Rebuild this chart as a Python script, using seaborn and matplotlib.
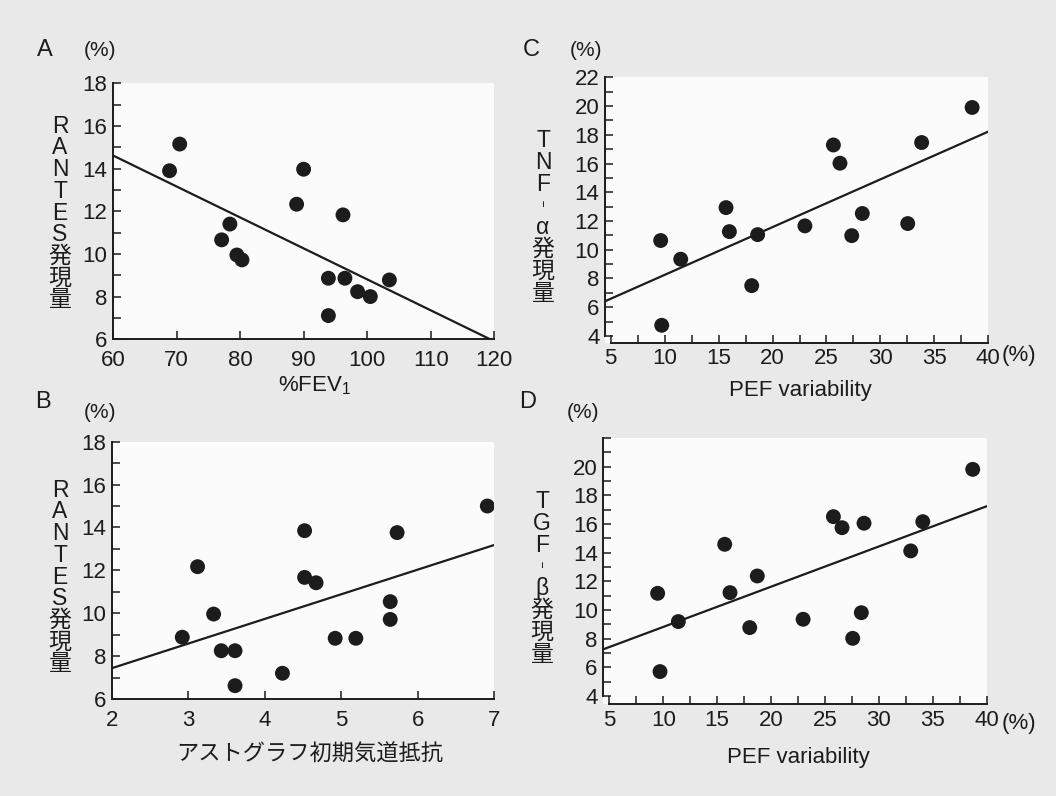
import matplotlib
matplotlib.use("Agg")
import matplotlib.pyplot as plt
import seaborn as sns
from matplotlib.ticker import MultipleLocator

# A: RANTES expression vs %FEV1
fev1 = [68.9, 70.5, 77.1, 78.4, 79.5, 80.3, 88.9, 90.0, 96.2, 93.9, 93.9, 96.5, 98.5, 100.5, 103.5]
rantes_a = [13.9, 15.15, 10.66, 11.4, 9.95, 9.72, 12.33, 13.97, 11.83, 8.86, 7.11, 8.86, 8.23, 8.0, 8.78]

# B: RANTES expression vs astograph initial airway resistance
resist = [2.92, 3.12, 3.33, 3.43, 3.61, 3.61, 4.23, 4.52, 4.52, 4.67, 4.92, 5.19, 5.64, 5.64, 5.73, 6.91]
rantes_b = [8.88, 12.17, 9.96, 8.25, 8.25, 6.62, 7.2, 13.85, 11.67, 11.42, 8.83, 8.83, 10.54, 9.71, 13.76, 15.0]

# C: TNF-alpha vs PEF variability
pef_c = [9.63, 9.73, 11.49, 15.69, 16.0, 18.07, 18.62, 23.0, 25.64, 26.25, 27.34, 28.32, 32.53, 33.82, 38.5]
tnf = [10.64, 4.74, 9.34, 12.93, 11.26, 7.5, 11.05, 11.66, 17.29, 16.02, 10.98, 12.52, 11.82, 17.46, 19.9]

# D: TGF-beta vs PEF variability
pef_d = [9.48, 9.70, 11.4, 15.7, 16.19, 18.02, 18.72, 22.97, 25.78, 26.58, 27.57, 28.37, 28.62, 32.95, 34.07, 38.7]
tgf = [11.16, 5.70, 9.19, 14.58, 11.21, 8.77, 12.37, 9.35, 16.51, 15.74, 8.02, 9.81, 16.05, 14.12, 16.16, 19.81]

sns.set_style("ticks")
plt.rcParams["font.family"] = ["Liberation Sans", "Noto Sans CJK JP", "DejaVu Sans"]
plt.rcParams["mathtext.fontset"] = "custom"
plt.rcParams["mathtext.rm"] = "Liberation Sans"
plt.rcParams["axes.linewidth"] = 1.4

INK = "#1c1c1c"
W, H = 1056, 796

fig = plt.figure(figsize=(10.56, 7.96), dpi=100, facecolor="#e9e9e9")


def px(x, y):
    return x / W, 1 - y / H


def panel(rect, x, y, xlim, ylim, xmajor, ymajor, xminor, yminor, trim=False, xpad=8):
    ax = fig.add_axes(rect, facecolor="#fbfbfb")
    # limits first, so the fitted line spans the whole x range
    ax.set_xlim(*xlim)
    ax.set_ylim(*ylim)
    sns.regplot(x=x, y=y, ax=ax, ci=None, truncate=False,
                scatter_kws=dict(s=115, color=INK, edgecolor="none", alpha=1, zorder=3),
                line_kws=dict(color=INK, lw=1.6))
    ax.set_xlim(*xlim)
    ax.set_ylim(*ylim)
    ax.set_xticks(xmajor)
    ax.set_yticks(ymajor)
    if xminor:
        ax.xaxis.set_minor_locator(MultipleLocator(xminor))
    if yminor:
        ax.yaxis.set_minor_locator(MultipleLocator(yminor))
    ax.tick_params(which="both", direction="in", length=6, width=1.1, color=INK)
    ax.tick_params(labelsize=16, labelcolor=INK)
    ax.tick_params(axis="y", pad=4)
    ax.tick_params(axis="x", pad=xpad)
    sns.despine(ax=ax, trim=trim)
    for s in ("left", "bottom"):
        ax.spines[s].set_color(INK)
    ax.set_xlabel("")
    ax.set_ylabel("")
    return ax


axA = panel([0.107, 0.5738, 0.361, 0.3216], fev1, rantes_a, (60, 120), (6, 18),
            range(60, 121, 10), range(6, 19, 2), None, 1)
axB = panel([0.106, 0.1219, 0.362, 0.3232], resist, rantes_b, (2, 7), (6, 18),
            range(2, 8), range(6, 19, 2), None, 1)
axC = panel([0.5729, 0.5695, 0.363, 0.3334], pef_c, tnf, (4.47, 40), (3.53, 22),
            range(5, 41, 5), range(4, 23, 2), 2.5, 1, trim=True, xpad=4)
axD = panel([0.5713, 0.1156, 0.3631, 0.3342], pef_d, tgf, (4.44, 40), (3.44, 22),
            range(5, 41, 5), range(4, 23, 2), 2.5, 1, trim=True, xpad=4)
axD.set_yticklabels([str(v) for v in range(4, 21, 2)] + [""])

txt = dict(color=INK, ha="center", va="center")

# panel letters and unit marks
for letter, (lx, ly), (ux, uy) in [("A", (45, 50), (100, 50)),
                                   ("C", (531, 50), (586, 50)),
                                   ("B", (43, 402), (100, 413)),
                                   ("D", (528, 402), (583, 413))]:
    fig.text(*px(lx, ly), letter, fontsize=17, **txt)
    fig.text(*px(ux, uy), "(%)", fontsize=15, **txt)

# vertical y labels
ylabels = [("RANTES発現量", (60, 213)), ("RANTES発現量", (60, 577)),
           ("TNF︲α発現量", (543, 217)), ("TGF︲β発現量", (542, 578))]
for lab, (lx, ly) in ylabels:
    fig.text(*px(lx, ly), "\n".join(lab), fontsize=16.5, linespacing=0.93, **txt)

# x labels
fig.text(*px(315, 386), "%FEV$_1$", fontsize=16, **txt)
fig.text(*px(800, 391), "PEF variability", fontsize=16, **txt)
fig.text(*px(310, 755), "アストグラフ初期気道抵抗", fontsize=16, **txt)
fig.text(*px(798, 757), "PEF variability", fontsize=16, **txt)
fig.text(*px(1002, 355), "(%)", fontsize=16, color=INK, ha="left", va="center")
fig.text(*px(1002, 723), "(%)", fontsize=16, color=INK, ha="left", va="center")

fig.savefig("out.png", dpi=100, facecolor=fig.get_facecolor())
